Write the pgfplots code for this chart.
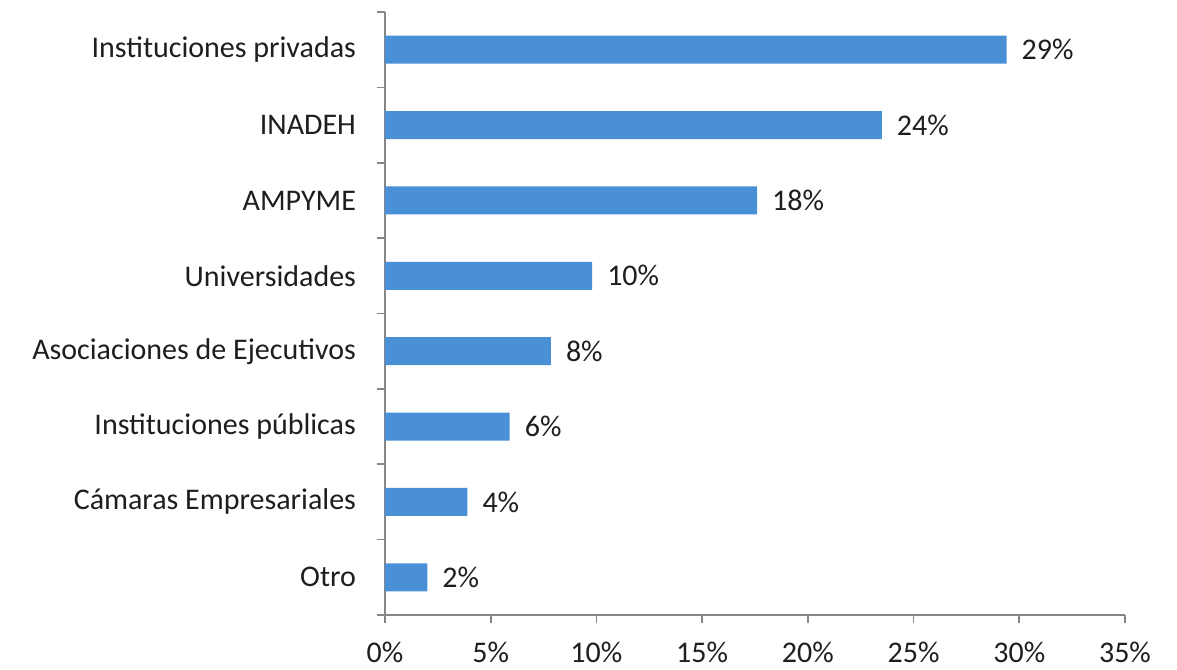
\documentclass[border=0pt]{standalone}
\usepackage{pgfplots}
\pgfplotsset{compat=1.18}
\usepackage{fontspec}
\setmainfont{Carlito}
\definecolor{barblue}{RGB}{74,144,214}
\definecolor{axgray}{RGB}{134,134,134}
\definecolor{txt}{RGB}{30,30,30}
\begin{document}
\begin{tikzpicture}
\begin{axis}[
  scale only axis, width=370pt, height=301.5pt,
  xbar, bar width=14pt,
  xmin=0, xmax=35, ymin=-0.5, ymax=7.5,
  axis x line*=bottom, axis y line*=left,
  axis line style={axgray, line width=0.8pt},
  xtick={0,5,...,35},
  xticklabel={\pgfmathprintnumber{\tick}\%},
  /pgf/number format/assume math mode=true,
  ytick={0,...,7},
  yticklabels={Otro, Cámaras Empresariales, Instituciones públicas, Asociaciones de Ejecutivos, Universidades, AMPYME, INADEH, Instituciones privadas},
  minor ytick={-0.5,0.5,...,7.5},
  tick align=outside,
  major tick length=4pt, minor tick length=4pt,
  major y tick style={draw=none},
  minor y tick style={axgray, line width=0.8pt},
  major x tick style={axgray, line width=0.8pt},
  ticklabel style={font=\fontsize{15}{18}\selectfont, text=txt},
  xticklabel style={yshift=-6pt},
  yticklabel style={xshift=-7pt},
  point meta=explicit symbolic,
  nodes near coords={\pgfplotspointmeta\%},
  nodes near coords align={horizontal},
  every node near coord/.append style={font=\fontsize{15}{18}\selectfont, text=txt, anchor=west, xshift=4pt},
]
\addplot[fill=barblue, draw=none] coordinates {
  (2.0,0) [2]
  (3.9,1) [4]
  (5.9,2) [6]
  (7.85,3) [8]
  (9.8,4) [10]
  (17.6,5) [18]
  (23.5,6) [24]
  (29.4,7) [29]
};
\end{axis}
\path (current axis.south west) ++(-192.5pt,-26.5pt) rectangle ++(588.5pt,334pt);
\end{tikzpicture}
\end{document}
